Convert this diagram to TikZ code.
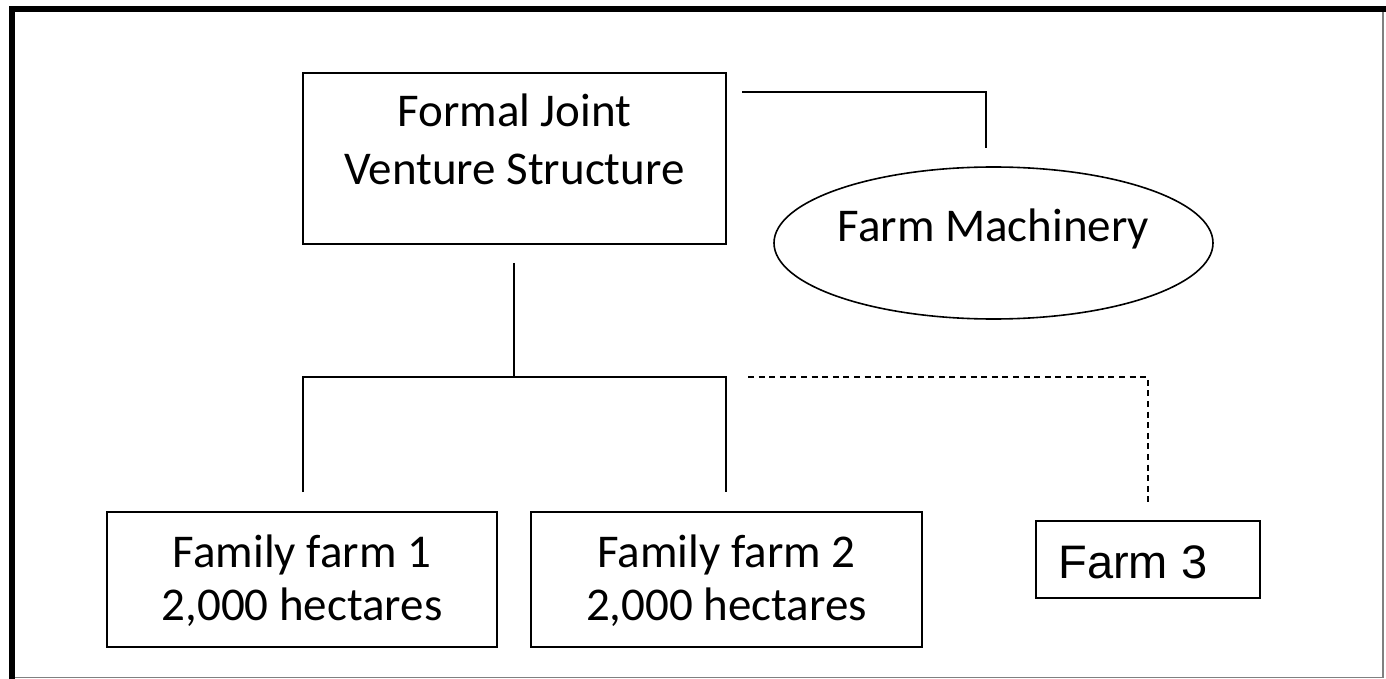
\documentclass[tikz,border=0pt]{standalone}
\usepackage{fontspec}
\setmainfont{Carlito}
\newfontfamily\arialf{Liberation Sans}
\usetikzlibrary{shapes.geometric}
\begin{document}
\begin{tikzpicture}[x=0.5pt,y=-0.5pt,
  box/.style={draw, line width=1pt, inner sep=0pt},
  conn/.style={line width=1pt},
  dconn/.style={line width=1pt, dash pattern=on 3pt off 2.3pt},
  bigtxt/.style={font=\fontsize{23.5}{29}\selectfont, inner sep=0pt},
  famtxt/.style={font=\fontsize{23.5}{26.5}\selectfont, inner sep=0pt, align=center, anchor=base}
]
\useasboundingbox (0,0) rectangle (1386,679);
\fill[white] (0,0) rectangle (1386,679);
% frame
\draw[gray, line width=0.7pt] (1383,9.5) -- (1383,677.5) -- (12,677.5);
\draw[line width=3pt] (12,679) -- (12,9.5) -- (1386,9.5);

\node[box, minimum width=211.5pt, minimum height=85.5pt] (jv) at (514.5,158.5) {};
\node[bigtxt, align=center, anchor=base] (jvtext) at (514.5,185) {Formal Joint\\Venture Structure};
\node[draw, ellipse, line width=0.8pt, minimum width=219.5pt, minimum height=76pt, inner sep=0pt] (mach) at (993.5,243) {};
\node[bigtxt, anchor=base] (machtext) at (993.5,242) {Farm Machinery};
\node[box, minimum width=195pt, minimum height=67.5pt] (ff1) at (302,579.5) {};
\node[famtxt] (ff1text) at (302,620) {Family farm 1\\2,000 hectares};
\node[box, minimum width=195.5pt, minimum height=67.5pt] (ff2) at (726.5,579.5) {};
\node[famtxt] (ff2text) at (726.5,620) {Family farm 2\\2,000 hectares};
\node[box, minimum width=112pt, minimum height=38.5pt] (f3) at (1148,559.5) {};
\node[font=\arialf\fontsize{23.5}{28}\selectfont, inner sep=0pt, anchor=base west] (f3text) at (1058,578) {Farm 3};

\coordinate (a1) at (742,92);
\coordinate (a2) at (986,148);
\draw[conn] (a1) -| (a2);
\coordinate (jvdown) at (514,263);
\coordinate (hub) at (514,377);
\draw[conn] (jvdown) -- (hub);
\coordinate (b1) at (303,492);
\coordinate (b2) at (726,492);
\draw[conn] (b1) |- (hub) -| (b2);
\coordinate (d1) at (748,377);
\coordinate (d2) at (1148,504);
\draw[dconn] (d1) -| (d2);
\end{tikzpicture}
\end{document}
